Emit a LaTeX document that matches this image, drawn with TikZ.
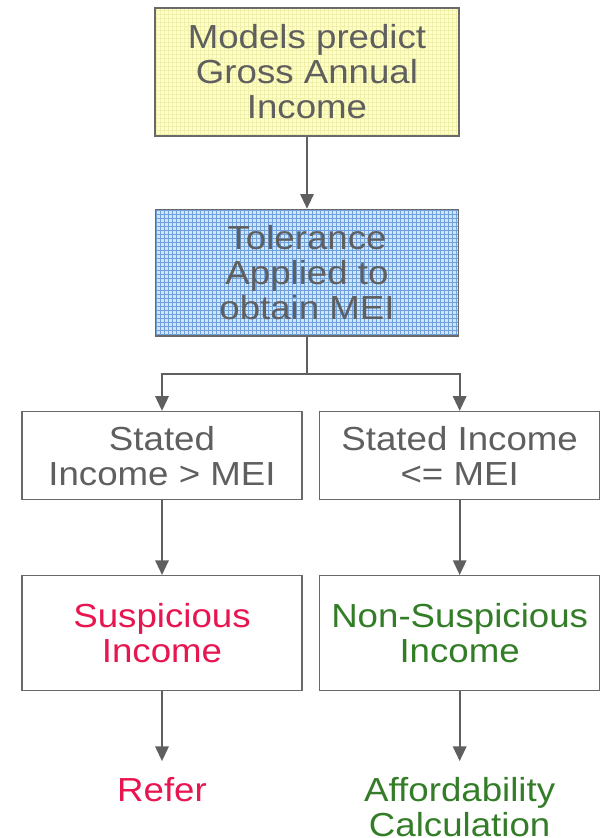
\documentclass[tikz,border=0pt]{standalone}
\usepackage{fontspec}
\setmainfont{Liberation Sans}[FakeStretch=1.1]
\usetikzlibrary{arrows.meta, positioning, patterns}

\definecolor{boxtext}{RGB}{95,95,95}
\definecolor{edgegrey}{RGB}{105,105,105}
\definecolor{arrowgrey}{RGB}{95,95,95}
\definecolor{predfill}{RGB}{255,255,200}
\definecolor{predgrid}{RGB}{240,240,170}
\definecolor{tolfill}{RGB}{210,228,248}
\definecolor{tolgrid}{RGB}{110,160,220}
\definecolor{suspred}{RGB}{232,22,80}
\definecolor{okgreen}{RGB}{52,125,40}

\newcommand{\boxfont}{\fontsize{25pt}{26.25pt}\selectfont}

\begin{document}
\begin{tikzpicture}[
        node distance=54pt,
        base/.style={rectangle, draw=edgegrey, line width=1.1pt, text=boxtext, align=center, font=\boxfont},
        predictbox/.style={base, minimum width=228pt, minimum height=96pt, preaction={fill=predfill}, preaction={pattern=grid, pattern color=predgrid}},
        tolbox/.style={base, minimum width=227pt, minimum height=95pt, preaction={fill=tolfill}, preaction={pattern=grid, pattern color=tolgrid}},
        testbox/.style={base, minimum width=210pt, minimum height=66pt, fill=white},
        resultbox/.style={base, minimum width=210pt, minimum height=86pt, fill=white},
        outcome/.style={align=center, font=\boxfont, inner xsep=0pt, inner ysep=12pt},
        arrow/.style={line width=1.5pt, draw=arrowgrey, -{Triangle[width=10pt,length=11pt]}}
    ]
        \useasboundingbox (0,0) rectangle (450.75pt,-628.5pt);

        % Model and tolerance
        \node (model) [predictbox] at (230.25pt,-54pt) {Models predict\\Gross Annual\\Income};
        \node (tol) [tolbox, below=54pt of model] {Tolerance\\Applied to\\obtain MEI};

        % Income tests
        \node (above) [testbox, below=55.5pt of tol, xshift=-108.75pt] {Stated\\Income > MEI};
        \node (within) [testbox, below=55.5pt of tol, xshift=114.5pt] {Stated Income\\<= MEI};

        % Results
        \node (susp) [resultbox, below=56pt of above, text=suspred] {Suspicious\\Income};
        \node (nonsusp) [resultbox, below=56pt of within, text=okgreen] {Non-Suspicious\\Income};

        % Outcomes
        \node (refer) [outcome, below=52.5pt of susp, text=suspred, anchor=north] {Refer};
        \node (afford) [outcome, below=52.5pt of nonsusp, text=okgreen, anchor=north] {Affordability\\Calculation};

        % Draws
        \draw [arrow] (model) -- (tol);
        \draw [arrow] (tol.south) -- ++(0,-27.75pt) -| (above.north);
        \draw [arrow] (tol.south) -- ++(0,-27.75pt) -| (within.north);
        \draw [arrow] (above) -- (susp);
        \draw [arrow] (within) -- (nonsusp);
        \draw [arrow] (susp) -- (refer);
        \draw [arrow] (nonsusp) -- (afford);
    \end{tikzpicture}
\end{document}
